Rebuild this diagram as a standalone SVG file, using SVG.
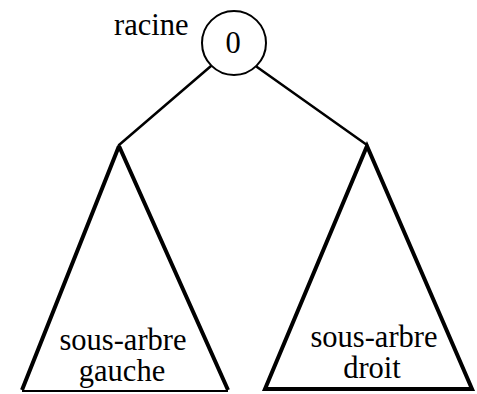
<svg xmlns="http://www.w3.org/2000/svg" width="477" height="394" viewBox="0 0 477 394">
<style>
text{font-family:"Liberation Serif","Times New Roman",serif;font-size:30.5px;fill:#000}
.c{text-anchor:middle}
.edge{stroke:#000;stroke-width:2.5;fill:none;stroke-linecap:round}
.tri{stroke:#000;stroke-width:4;fill:none;stroke-linejoin:miter}
</style>
<rect width="477" height="394" fill="#fff"/>
<g id="connectors">
<line class="edge" x1="211" y1="66" x2="119" y2="145"/>
<line class="edge" x1="257" y1="67" x2="367" y2="145"/>
</g>
<g id="root">
<circle cx="234" cy="43" r="32" fill="#fff" stroke="#000" stroke-width="2"/>
<text class="c" x="233" y="53">0</text>
<text x="114" y="35">racine</text>
</g>
<g id="left">
<path d="M119,146 L22,390 M119,146 L228,390" class="tri"/>
<line x1="22" y1="391" x2="228" y2="391" stroke="#000" stroke-width="2"/>
<text class="c" x="123" y="350">sous-arbre</text>
<text class="c" x="122" y="381">gauche</text>
</g>
<g id="right">
<polygon points="367,146 265,389 472,389" class="tri"/>
<text class="c" x="374" y="347">sous-arbre</text>
<text class="c" x="372" y="378">droit</text>
</g>
</svg>
